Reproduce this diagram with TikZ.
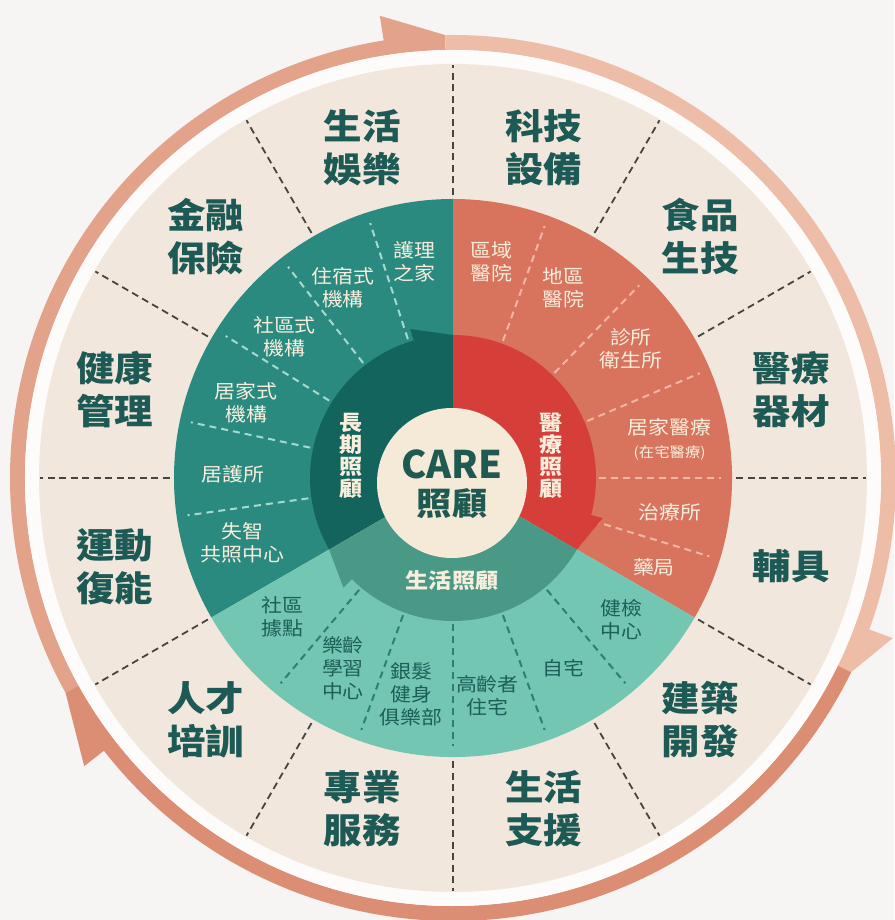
\documentclass[tikz,border=0pt]{standalone}
\usepackage{fontspec}
\setmainfont{Noto Sans CJK TC}
\newfontfamily\widecjk[FakeStretch=1.1]{Noto Sans CJK TC}
\definecolor{paper}{HTML}{F6F5F3}
\definecolor{gapwhite}{HTML}{FDFCFA}
\definecolor{sand}{HTML}{F2E7DC}
\definecolor{corebeige}{HTML}{F5E9D8}
\definecolor{ringA}{HTML}{E3A38B}
\definecolor{ringB}{HTML}{EDBDA8}
\definecolor{ringC}{HTML}{DB8E73}
\definecolor{ltcmid}{HTML}{2B8A7F}
\definecolor{ltcin}{HTML}{14645E}
\definecolor{ltcline}{HTML}{A6D9CF}
\definecolor{medmid}{HTML}{D8735E}
\definecolor{medin}{HTML}{D63E3A}
\definecolor{medline}{HTML}{F1B7A5}
\definecolor{lifemid}{HTML}{72C6B2}
\definecolor{lifein}{HTML}{4A9886}
\definecolor{lifeline}{HTML}{2E7F73}
\definecolor{inkteal}{HTML}{1E5A55}
\definecolor{lifeink}{HTML}{1C5F57}
\definecolor{coreink}{HTML}{1F5A52}
\definecolor{cream}{HTML}{F8EEDC}
\definecolor{dashgrey}{HTML}{454544}
\newcommand{\ringsector}[5]{%
  \fill[#1] (#2:#5) arc[start angle=#2, end angle=#3, radius=#5]
    -- (#3:#4) arc[start angle=#3, end angle=#2, radius=#4] -- cycle;}
\newcommand{\careturn}[4]{%
  \fill[#1] (#2:60) -- (#2:143) arc[start angle=#2, end angle=#4, radius=143]
    -- (#4:155) -- (#3:143) -- (#3:60)
    arc[start angle=#3, end angle=#2, radius=60] -- cycle;}
\newcommand{\ringarrow}[4]{%
  \fill[#1] (#2:428) arc[start angle=#2, end angle=#3, radius=428]
    -- (#3:443) -- (#4:468) -- (#4:443)
    arc[start angle=#4, end angle=#2, radius=443] -- cycle;}

\begin{document}
\begin{tikzpicture}[x=1pt, y=1pt,
  outerlabel/.style={text=inkteal, align=center,
    font=\widecjk\bfseries\fontsize{35}{43}\selectfont},
  midlabel/.style={text=cream, align=center,
    font=\widecjk\fontsize{19}{23}\selectfont},
  lifelabel/.style={midlabel, text=lifeink},
  turnlabel/.style={text=cream, align=center,
    font=\widecjk\bfseries\fontsize{21}{22}\selectfont},
  corelabel/.style={text=coreink, align=center},
  sectorline/.style={draw=dashgrey, dash pattern=on 7pt off 4.5pt, line width=1.8pt},
  subline/.style={dash pattern=on 7pt off 5pt, line width=2pt}
  ]
  \useasboundingbox (-453,-442) rectangle (441,478);
  \fill[paper] (-453,-442) rectangle (441,478);

  \ringarrow{ringA}{209}{91}{99}
  \ringarrow{ringB}{91}{-26}{-20}
  \ringarrow{ringC}{334}{209}{218}
  \fill[gapwhite] (0,0) circle[radius=428];
  \fill[sand] (0,0) circle[radius=414];
  \foreach \a in {0,30,...,330}
    \draw[sectorline] (\a:283) -- (\a:413);

  \ringsector{ltcmid}{90}{210}{130}{279}
  \ringsector{medmid}{-30}{90}{130}{279}
  \ringsector{lifemid}{210}{330}{130}{279}
  \foreach \a in {108,128,148,168,188}
    \draw[subline, draw=ltcline] (\a:146) -- (\a:268);
  \foreach \a in {70,46,23,0,-17}
    \draw[subline, draw=medline] (\a:146) -- (\a:268);
  \foreach \a in {230,250,270,290,310}
    \draw[subline, draw=lifeline] (\a:146) -- (\a:268);

  \careturn{ltcin}{210}{90}{106}
  \careturn{medin}{90}{-30}{-15}
  \careturn{lifein}{330}{210}{225}
  \fill[corebeige] (-1,-5) circle[radius=75];

  \foreach \a/\lbl [count=\i] in {75/{科技\\設備}, 45/{食品\\生技},
      15/{醫療\\器材}, -15/{輔具}, -45/{建築\\開發}, -75/{生活\\支援},
      -105/{專業\\服務}, -135/{人才\\培訓}, -165/{運動\\復能},
      165/{健康\\管理}, 135/{金融\\保險}, 105/{生活\\娛樂}}
    \node[outerlabel] (outer\i) at (\a:350 and 342) {\lbl};

  \foreach \a/\lbl [count=\i] in {100/{護理\\之家}, 120/{住宿式\\機構},
      140/{社區式\\機構}, 160/{居家式\\機構}, 179/{居護所},
      197/{失智\\共照中心}}
    \node[midlabel] (ltc\i) at (\a:220) {\lbl};
  \foreach \a/\lbl [count=\i] in {80/{區域\\醫院}, 60/{地區\\醫院},
      36/{診所\\衛生所},
      10/{居家醫療\\{\fontsize{14}{17}\selectfont (在宅醫療)}},
      -9/{治療所}, -24/{藥局}}
    \node[midlabel] (med\i) at (\a:220) {\lbl};
  \foreach \a/\lbl [count=\i] in {219/{社區\\據點}, 240/{樂齡\\學習\\中心},
      259/{銀髮\\健身\\俱樂部}, 279/{高齡者\\住宅}, 300/{自宅},
      320/{健檢\\中心}}
    \node[lifelabel] (life\i) at (\a:220) {\lbl};

  \node[turnlabel] (ltcturn) at (-102,22) {長\\期\\照\\顧};
  \node[turnlabel] (medturn) at (98,22) {醫\\療\\照\\顧};
  \node[turnlabel] (lifeturn) at (-1,-103) {生活照顧};
  \node[corelabel, font=\bfseries\fontsize{38}{40}\selectfont] (care) at (-1,14) {CARE};
  \node[corelabel, font=\widecjk\bfseries\fontsize{32}{34}\selectfont] (carezh) at (-1,-26) {照顧};
\end{tikzpicture}
\end{document}
